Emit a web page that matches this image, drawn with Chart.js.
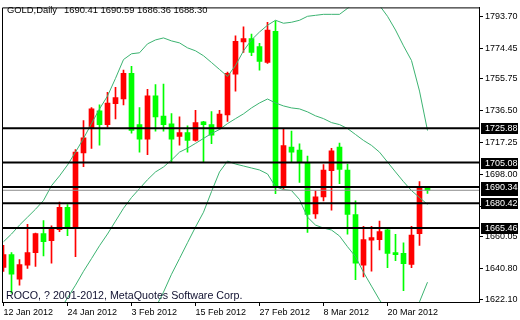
<!DOCTYPE html>
<html><head><meta charset="utf-8">
<script src="https://cdn.jsdelivr.net/npm/chart.js@4.4.1/dist/chart.umd.min.js"></script>
<style>html,body{margin:0;padding:0;background:#fff}canvas{display:block}</style>
</head><body>
<canvas id="c" width="520" height="320"></canvas>
<script>
const symbolName = "GOLD,Daily";
const copyright = "ROCO, ? 2001-2012, MetaQuotes Software Corp.";
const dates = ["12 Jan 2012","13 Jan 2012","16 Jan 2012","17 Jan 2012","18 Jan 2012","19 Jan 2012","20 Jan 2012","23 Jan 2012","24 Jan 2012","25 Jan 2012","26 Jan 2012","27 Jan 2012","30 Jan 2012","31 Jan 2012","1 Feb 2012","2 Feb 2012","3 Feb 2012","6 Feb 2012","7 Feb 2012","8 Feb 2012","9 Feb 2012","10 Feb 2012","13 Feb 2012","14 Feb 2012","15 Feb 2012","16 Feb 2012","17 Feb 2012","20 Feb 2012","21 Feb 2012","22 Feb 2012","23 Feb 2012","24 Feb 2012","27 Feb 2012","28 Feb 2012","29 Feb 2012","1 Mar 2012","2 Mar 2012","5 Mar 2012","6 Mar 2012","7 Mar 2012","8 Mar 2012","9 Mar 2012","12 Mar 2012","13 Mar 2012","14 Mar 2012","15 Mar 2012","16 Mar 2012","19 Mar 2012","20 Mar 2012","21 Mar 2012","22 Mar 2012","23 Mar 2012","26 Mar 2012","27 Mar 2012"];
const open  = [1641.6,1649.3,1634.4,1642.9,1650.5,1662.0,1657.7,1664.4,1677.9,1666.0,1711.0,1726.1,1736.4,1728.1,1740.8,1743.6,1759.1,1728.1,1719.3,1745.5,1733.3,1728.5,1720.9,1723.3,1718.5,1729.7,1728.1,1726.1,1734.0,1758.7,1778.2,1780.2,1775.4,1765.8,1784.6,1691.1,1714.5,1712.6,1704.6,1673.9,1684.3,1700.2,1714.5,1700.6,1673.6,1642.9,1658.1,1658.4,1664.4,1650.5,1650.1,1643.3,1662.0,1690.41];
const high  = [1655.0,1650.5,1646.3,1667.6,1662.4,1670.0,1666.8,1681.1,1679.6,1713.0,1730.5,1738.4,1740.0,1747.6,1750.7,1761.1,1763.4,1738.4,1749.5,1752.3,1752.7,1734.8,1732.8,1727.3,1736.8,1730.0,1736.0,1736.8,1759.9,1781.8,1787.3,1783.0,1777.4,1790.1,1790.9,1725.7,1724.1,1716.5,1709.0,1687.9,1703.8,1713.7,1716.9,1704.2,1681.9,1666.4,1666.4,1669.6,1665.2,1661.6,1656.5,1666.4,1693.5,1690.59];
const low   = [1639.1,1626.0,1630.8,1641.0,1642.2,1648.5,1644.1,1663.2,1660.8,1648.1,1702.6,1713.7,1715.7,1726.5,1731.6,1740.0,1722.9,1711.4,1709.8,1724.1,1724.1,1705.4,1715.7,1711.4,1718.1,1705.4,1716.5,1725.3,1730.0,1748.4,1771.8,1769.8,1761.1,1765.1,1686.3,1689.1,1705.4,1693.0,1662.8,1671.2,1681.9,1676.3,1692.3,1661.7,1634.2,1635.8,1639.3,1652.1,1641.4,1645.7,1627.4,1641.4,1654.9,1686.36];
const close = [1649.3,1637.4,1643.3,1650.5,1662.0,1657.2,1665.6,1677.9,1666.0,1711.4,1720.1,1737.6,1728.1,1741.2,1744.4,1759.1,1724.5,1719.3,1745.5,1732.8,1728.1,1719.3,1723.3,1718.5,1729.3,1728.1,1721.7,1734.5,1759.1,1778.6,1780.2,1771.8,1766.3,1785.3,1690.7,1715.4,1711.4,1705.4,1673.6,1684.3,1700.6,1712.2,1701.0,1673.6,1644.1,1658.4,1659.6,1663.2,1650.1,1649.3,1643.8,1661.2,1689.9,1688.30];
const bbUpper  = [1657.1,1661.8,1667.2,1672.0,1676.8,1682.1,1691.1,1697.0,1703.6,1711.4,1719.7,1728.7,1737.6,1745.4,1756.1,1767.5,1771.0,1771.6,1777.0,1779.4,1780.6,1778.8,1777.6,1774.6,1772.8,1769.8,1765.7,1761.5,1757.3,1763.9,1772.8,1779.4,1784.2,1788.3,1791.3,1789.5,1790.1,1791.3,1793.7,1794.3,1794.9,1794.9,1794.9,1798.5,1802.1,1803.2,1802.7,1800.3,1793.7,1785.4,1775.8,1766.9,1748.4,1724.5];
const bbMiddle = [null,null,null,null,null,null,null,1615.3,1623.1,1630.8,1639.2,1646.9,1654.7,1661.8,1669.6,1677.4,1683.9,1689.3,1694.7,1699.4,1702.4,1706.6,1711.4,1713.8,1716.7,1719.7,1722.7,1725.1,1728.7,1731.7,1734.6,1738.2,1741.2,1743.6,1741.2,1739.4,1738.2,1737.6,1735.8,1733.4,1731.7,1729.3,1728.1,1725.7,1722.1,1718.5,1715.5,1711.4,1705.4,1699.4,1693.5,1688.1,1683.9,1679.7];
const bbLower  = [null,null,null,null,null,null,null,null,null,null,null,null,null,null,null,null,null,null,null,1617.1,1626.6,1637.4,1646.9,1656.5,1666.0,1675.0,1687.5,1699.4,1706.0,1704.2,1703.0,1701.8,1700.6,1698.2,1690.5,1688.7,1688.1,1682.7,1672.0,1667.2,1665.4,1664.2,1660.6,1654.1,1648.1,1638.6,1630.2,1621.9,1614.7,1609.9,1607.0,1609.9,1620.7,1632.6];
const levels = [1725.88, 1705.08, 1690.34, 1680.42, 1665.46];
const bidPrice = 1688.30;
const priceTicks = [1793.70, 1774.45, 1755.75, 1736.50, 1717.25, 1698.00, 1678.75, 1660.05, 1640.80, 1622.10];
const dateTickIdx = [0, 8, 16, 24, 32, 40, 48];

const X_MIN = -0.1875, X_MAX = 59.4375;
const Y_MIN = 1620.6, Y_MAX = 1799.1;
const UP = '#ff0000', DOWN = '#00ff00', BAND = '#3cb371';
const FONT = "'Liberation Sans', Arial, sans-serif";

const candleColors = close.map((c, i) => c > open[i] ? UP : DOWN);
const toXY = arr => arr.map((v, i) => v === null ? null : {x: i, y: v}).filter(p => p);
const hLine = v => [{x: X_MIN, y: v}, {x: X_MAX, y: v}];

const datasets = [
  {type: 'bar', data: dates.map((d, i) => ({x: i, y: [low[i], high[i]]})), backgroundColor: candleColors,
   barThickness: 1, grouped: false, order: 5, borderWidth: 0},
  {type: 'bar', data: dates.map((d, i) => ({x: i, y: [open[i], close[i]]})), backgroundColor: candleColors,
   barThickness: 5, grouped: false, order: 4, borderWidth: 0, minBarLength: 1},
  {type: 'line', data: toXY(bbUpper), borderColor: BAND, borderWidth: 1, pointRadius: 0, tension: 0, order: 3},
  {type: 'line', data: toXY(bbMiddle), borderColor: BAND, borderWidth: 1, pointRadius: 0, tension: 0, order: 3},
  {type: 'line', data: toXY(bbLower), borderColor: BAND, borderWidth: 1, pointRadius: 0, tension: 0, order: 3},
  {type: 'line', data: hLine(bidPrice), borderColor: '#8c8c8c', borderWidth: 1, pointRadius: 0, order: 2},
  ...levels.map(v => ({type: 'line', data: hLine(v), borderColor: '#000', borderWidth: 2, pointRadius: 0, order: 1}))
];

const overlay = {
  id: 'overlay',
  afterDraw(chart) {
    const ctx = chart.ctx, a = chart.chartArea, ys = chart.scales.y;
    ctx.save();
    ctx.strokeStyle = '#000'; ctx.lineWidth = 1;
    ctx.beginPath();
    ctx.moveTo(a.left + 0.5, a.bottom); ctx.lineTo(a.left + 0.5, a.top + 0.5); ctx.lineTo(a.right, a.top + 0.5);
    ctx.stroke();
    const n = close.length - 1;
    ctx.fillStyle = '#000'; ctx.textBaseline = 'middle'; ctx.textAlign = 'left';
    ctx.font = '9.4px ' + FONT;
    ctx.fillText(symbolName, 7, 10);
    ctx.fillText([open[n], high[n], low[n], close[n]].map(v => v.toFixed(2)).join(' '), 64, 10);
    ctx.font = '10.7px ' + FONT;
    ctx.fillStyle = '#101030';
    ctx.fillText(copyright, 6, 296);
    const box = (v) => {
      const y = ys.getPixelForValue(v);
      ctx.fillStyle = '#000';
      ctx.fillRect(481, Math.round(y) - 5, 37, 11);
      ctx.fillStyle = '#fff';
      ctx.font = '9px ' + FONT;
      ctx.fillText(v.toFixed(2), 485, Math.round(y) + 0.5);
    };
    box(bidPrice);
    levels.forEach(box);
    ctx.restore();
  }
};

new Chart(document.getElementById('c'), {
  type: 'bar',
  data: {datasets},
  plugins: [overlay],
  options: {
    responsive: false, animation: false, devicePixelRatio: 1,
    layout: {padding: {left: 2, top: 3, right: 0, bottom: 0}},
    plugins: {legend: {display: false}, tooltip: {enabled: false}, title: {display: false}},
    scales: {
      x: {
        type: 'linear', min: X_MIN, max: X_MAX, offset: false,
        afterBuildTicks: s => { s.ticks = dateTickIdx.map(v => ({value: v})); },
        afterFit: s => { s.height = 18; },
        grid: {display: true, drawOnChartArea: false, drawTicks: true, tickLength: 4, color: '#000', offset: false},
        border: {display: true, color: '#000'},
        ticks: {autoSkip: false, maxRotation: 0, align: 'start', padding: 1, color: '#000',
                font: {family: FONT, size: 9}, callback: v => dates[v]}
      },
      y: {
        type: 'linear', position: 'right', min: Y_MIN, max: Y_MAX,
        afterBuildTicks: s => { s.ticks = priceTicks.map(v => ({value: v})); },
        afterFit: s => { s.width = 41; },
        grid: {display: true, drawOnChartArea: false, drawTicks: true, tickLength: 4, color: '#000'},
        border: {display: true, color: '#000'},
        ticks: {padding: 2, color: '#000', font: {family: FONT, size: 9}, callback: v => v.toFixed(2)}
      }
    }
  }
});
</script>
</body></html>
